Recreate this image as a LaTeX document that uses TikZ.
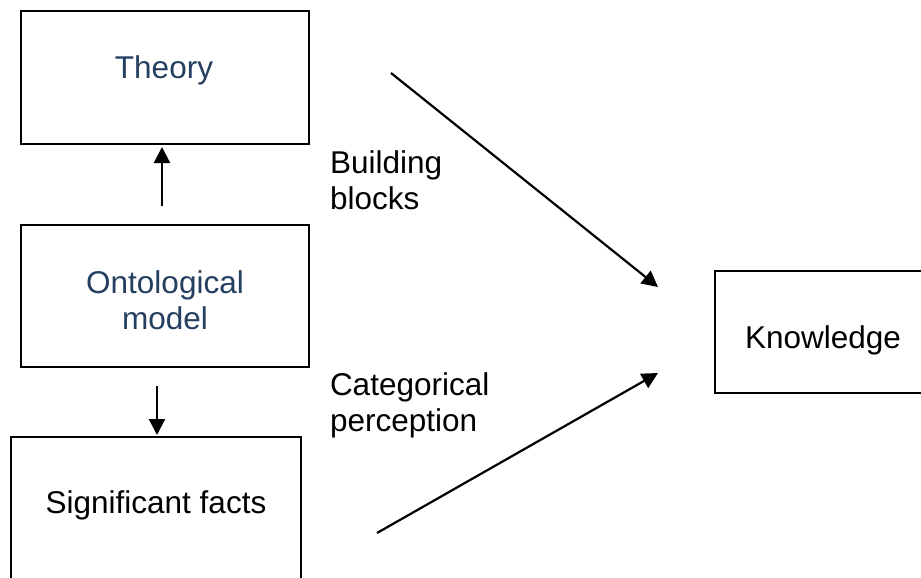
\documentclass[tikz,border=0pt]{standalone}
\usepackage{fontspec}
\setmainfont{Liberation Sans}
\usetikzlibrary{arrows.meta,calc}
\definecolor{titleblue}{RGB}{36,63,96}
\begin{document}
\begin{tikzpicture}[x=1pt,y=-1pt,
  box/.style={draw=black, line width=1.8pt, inner sep=0pt, outer sep=0pt},
  arr/.style={draw=black, line width=2.2pt, -{Triangle[length=16pt,width=16pt]}},
  lbl/.style={font=\fontsize{31.5}{36}\selectfont, inner sep=0pt, outer sep=0pt}]
\useasboundingbox (0,0) rectangle (921,578);
\fill[white] (0,0) rectangle (921,578);
% boxes
\node[box, minimum width=288pt, minimum height=133pt] (theory) at (165,77.5) {};
\node[box, minimum width=288pt, minimum height=142pt] (onto) at (165,296) {};
\node[box, minimum width=290pt, minimum height=163pt] (facts) at (156,518.5) {};
\node[box, minimum width=210pt, minimum height=122pt] (know) at (820,332) {};
% box texts
\node[lbl, text=titleblue, anchor=base] (theorytxt) at (164,78) {Theory};
\node[lbl, text=titleblue, anchor=base, align=center] (ontotxt) at (165,329) {Ontological\\model};
\node[lbl, anchor=base] (factstxt) at (156,513) {Significant facts};
\node[lbl, anchor=base] (knowtxt) at (823,348) {Knowledge};
% free labels
\node[lbl, anchor=base west, align=left] (bb) at (330,209) {Building\\blocks};
\node[lbl, anchor=base west, align=left] (cp) at (330,431) {Categorical\\perception};
% arrow ends
\coordinate (b1s) at (391,73);
\coordinate (b1e) at (658,287);
\coordinate (c1s) at (377,533);
\coordinate (c1e) at (658,373);
% connectors
\draw[arr] ($(onto.north)+(-3,-19)$) -- ($(theory.south)+(-3,3)$);
\draw[arr] ($(onto.south)+(-8,19)$) -- ($(facts.north)+(1,-2)$);
\draw[arr] (b1s) -- (b1e);
\draw[arr] (c1s) -- (c1e);
\end{tikzpicture}
\end{document}
